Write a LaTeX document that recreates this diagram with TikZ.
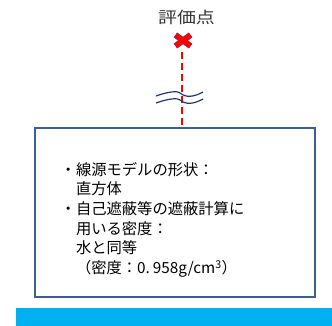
\documentclass[tikz,border=0pt]{standalone}
\usepackage{fontspec}
\setmainfont{Noto Sans CJK JP}
\newfontfamily\jpfont{Noto Sans CJK JP}
\definecolor{boxblue}{HTML}{3D5F8F}
\definecolor{barblue}{HTML}{00B0F0}
\definecolor{wavenavy}{HTML}{1F3A68}
\definecolor{xred}{HTML}{FF0000}
\definecolor{xedge}{HTML}{3A4F8A}
\tikzset{
  redxedge/.style={draw=xedge, line width=6pt},
  redx/.style={draw=xred, line width=5pt},
  reddash/.style={draw=xred, line width=1.6pt, dash pattern=on 7pt off 4pt},
  wave/.style={draw=wavenavy, line width=1.2pt},
  mainbox/.style={draw=boxblue, line width=2.2pt, fill=white},
}
\begin{document}
\begin{tikzpicture}[x=1pt,y=-1pt]
\useasboundingbox (0,0) rectangle (332,326);
% label
\node[font=\jpfont\fontsize{16}{18}\selectfont, inner sep=0pt, text=black!80] (lbl) at (186.5,17) {\scalebox{1.18}[1]{評価点}};
% evaluation point
\coordinate (pt) at (183,40.5);
\draw[redxedge] (175.5,35) -- (190.5,46);
\draw[redxedge] (190.5,35) -- (175.5,46);
\draw[redx] (175.5,35) -- (190.5,46);
\draw[redx] (190.5,35) -- (175.5,46);
% box
\draw[mainbox] (35,128) rectangle (315,297);
\coordinate (boxtop) at (182,127);
\coordinate (dashstart) at (182,52);
\draw[reddash] (dashstart) -- (boxtop);
% waves
\draw[wave] (156,96) .. controls (170,91) and (178,91) .. (180,93) .. controls (186,98) and (194,97) .. (203,92);
\draw[wave] (156,103) .. controls (170,98) and (178,98) .. (180,100) .. controls (186,105) and (194,104) .. (203,99);
% text
\node[anchor=north west, inner sep=0pt, align=left, font=\jpfont\fontsize{15.3}{19.6}\selectfont] (txt) at (60.5,162) {%
・線源モデルの形状：\\
\phantom{・}直方体\\
・自己遮蔽等の遮蔽計算に\\
\phantom{・}用いる密度：\\
\phantom{・}水と同等\\
\phantom{・}（密度：0.\hspace{3pt}958g/cm\textsuperscript{3}）};
% bar
\fill[barblue] (16,308) rectangle (332,326);
\end{tikzpicture}
\end{document}
